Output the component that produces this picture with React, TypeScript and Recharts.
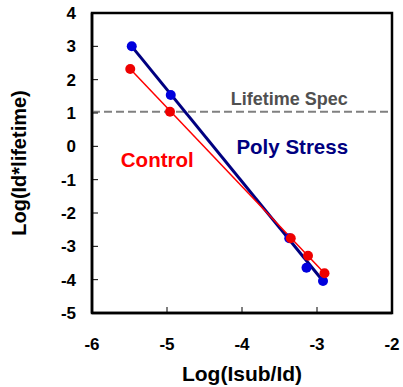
import React from 'react';
import { ComposedChart, XAxis, YAxis, Line, Scatter, ReferenceLine, ReferenceArea, ReferenceDot } from 'recharts';

const controlPoints = [
  { x: -5.49, y: 2.32 },
  { x: -4.96, y: 1.04 },
  { x: -3.35, y: -2.76 },
  { x: -3.12, y: -3.28 },
  { x: -2.9, y: -3.81 },
];
const polyPoints = [
  { x: -5.47, y: 3.0 },
  { x: -4.95, y: 1.54 },
  { x: -3.37, y: -2.76 },
  { x: -3.14, y: -3.64 },
  { x: -2.92, y: -4.04 },
];
const controlFit = [
  { x: -5.49, y: 2.32 },
  { x: -2.9, y: -3.81 },
];
const polyFit = [
  { x: -5.47, y: 3.0 },
  { x: -2.92, y: -4.04 },
];
const xTicks = [-6, -5, -4, -3, -2];
const yTicks = [-5, -4, -3, -2, -1, 0, 1, 2, 3, 4];
const specLevel = 1.04;

const FONT = 'Liberation Sans, Arial, sans-serif';

export default function App() {
  return (
    <div style={{ position: 'absolute', left: 0, top: 0, width: 403, height: 387, background: '#fff' }}>
      <ComposedChart width={403} height={387} margin={{ top: 13, right: 11, bottom: 14, left: 32 }}>
        <XAxis
          type="number"
          dataKey="x"
          domain={[-6, -2]}
          ticks={xTicks}
          allowDataOverflow
          height={60}
          stroke="#000"
          axisLine={{ stroke: '#000', strokeWidth: 2.5 }}
          tickLine={{ stroke: '#000', strokeWidth: 1 }}
          tickSize={-6}
          tickMargin={31}
          tick={{ fill: '#000', fontSize: 17, fontWeight: 'bold', fontFamily: FONT }}
          label={{ value: 'Log(Isub/Id)', position: 'insideBottom', offset: -8, fill: '#000', fontSize: 21, fontWeight: 'bold', fontFamily: FONT }}
        />
        <YAxis
          type="number"
          dataKey="y"
          domain={[-5, 4]}
          ticks={yTicks}
          allowDataOverflow
          width={60}
          axisLine={{ stroke: '#000', strokeWidth: 2.5 }}
          tickLine={{ stroke: '#000', strokeWidth: 1 }}
          tickSize={-6}
          tickMargin={22}
          tick={{ fill: '#000', fontSize: 17, fontWeight: 'bold', fontFamily: FONT }}
          label={{ value: 'Log(Id*lifetime)', angle: -90, position: 'insideLeft', offset: -13, style: { textAnchor: 'middle' }, fill: '#000', fontSize: 20, fontWeight: 'bold', fontFamily: FONT }}
        />
        <ReferenceArea x1={-6} x2={-2} y1={-5} y2={4} fill="none" stroke="#000" strokeWidth={2.5} />
        <ReferenceLine y={specLevel} stroke="#808080" strokeWidth={2} strokeDasharray="8 4" />
        <Line data={polyFit} dataKey="y" stroke="#000080" strokeWidth={3} dot={false} isAnimationActive={false} legendType="none" />
        <Line data={controlFit} dataKey="y" stroke="#ff0000" strokeWidth={1.5} dot={false} isAnimationActive={false} legendType="none" />
        <Scatter data={polyPoints} fill="#0000dd" isAnimationActive={false}
          shape={(p: any) => <circle cx={p.cx} cy={p.cy} r={5} fill="#0000dd" />} />
        <Scatter data={controlPoints} fill="#ee0000" isAnimationActive={false}
          shape={(p: any) => <circle cx={p.cx} cy={p.cy} r={5} fill="#ee0000" />} />
        <ReferenceDot x={-3.37} y={1.42} r={0} stroke="none"
          label={{ value: 'Lifetime Spec', position: 'center', fill: '#505050', fontSize: 18, fontWeight: 'bold', fontFamily: FONT }} />
        <ReferenceDot x={-3.33} y={-0.02} r={0} stroke="none"
          label={{ value: 'Poly Stress', position: 'center', fill: '#000080', fontSize: 20.5, fontWeight: 'bold', fontFamily: FONT }} />
        <ReferenceDot x={-5.13} y={-0.41} r={0} stroke="none"
          label={{ value: 'Control', position: 'center', fill: '#ff0000', fontSize: 20.5, fontWeight: 'bold', fontFamily: FONT }} />
      </ComposedChart>
    </div>
  );
}
